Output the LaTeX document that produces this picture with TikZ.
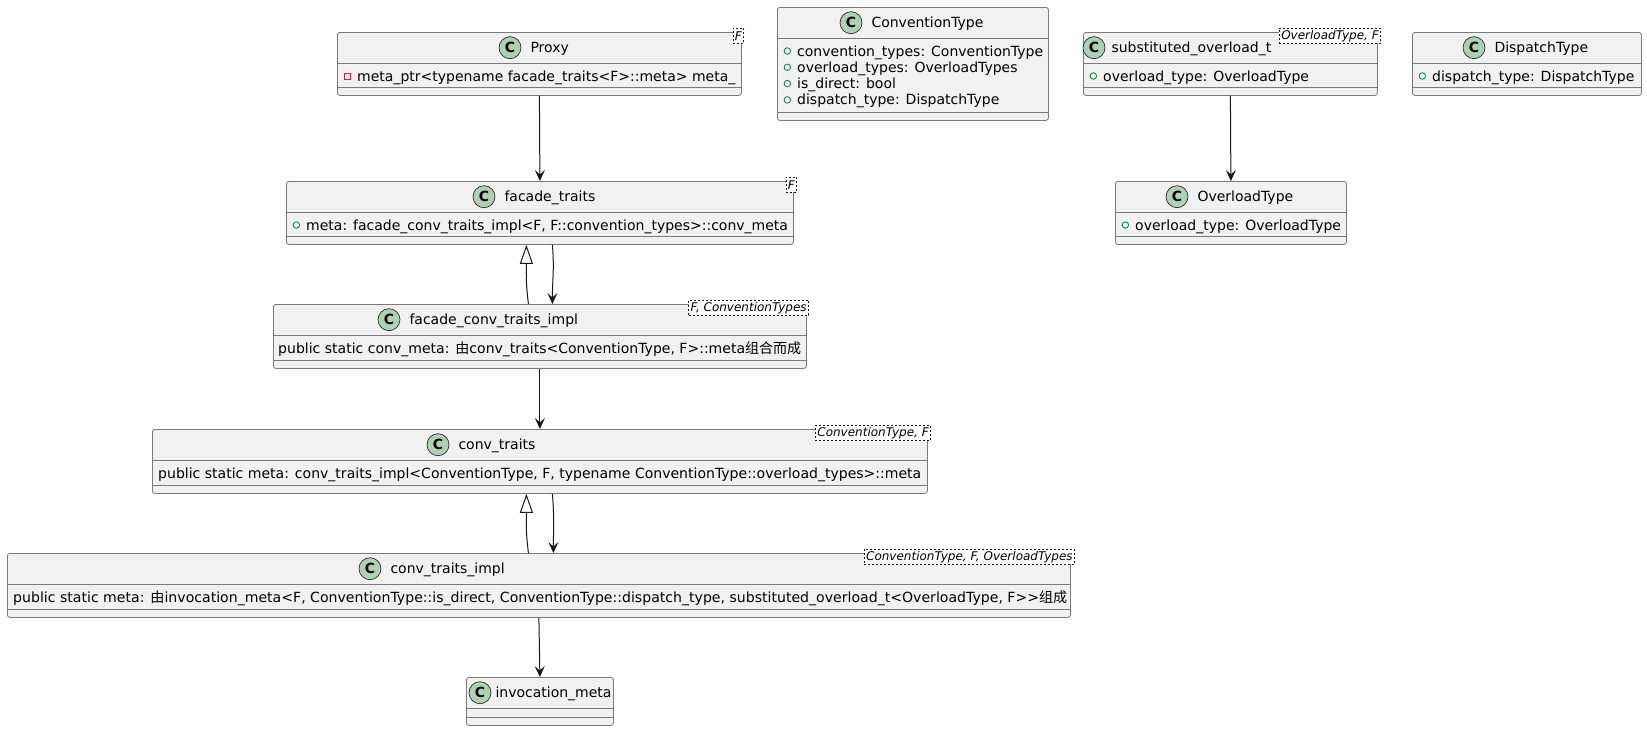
\documentclass[tikz,border=0pt]{standalone}
\usepackage{fontspec}
\setmainfont{DejaVu Sans}
\newfontfamily\cjk{Noto Sans CJK SC}
\usepackage{graphicx}
\usepackage{xcolor}
\usetikzlibrary{arrows.meta,positioning}

\definecolor{boxfill}{HTML}{F1F1F1}
\definecolor{boxline}{HTML}{7A7A7A}
\definecolor{umlline}{HTML}{181818}
\definecolor{iconfill}{HTML}{ADD1B2}
\definecolor{privred}{HTML}{C82930}
\definecolor{pubgreen}{HTML}{038048}

\begin{document}
\begin{tikzpicture}[x=1pt, y=-1pt,
    font=\fontsize{14}{16.3}\selectfont,
    classbox/.style={draw=boxline, line width=0.8pt, fill=boxfill, rounded corners=2.5pt, anchor=north west, inner sep=0pt},
    sep/.style={draw=boxline, line width=0.8pt},
    cicon/.style={circle, draw=umlline, line width=0.6pt, fill=iconfill, minimum size=22pt, inner sep=0pt, font=\fontsize{14}{14}\selectfont\bfseries},
    cname/.style={inner sep=0pt, text height=12.5pt, text depth=3.3pt},
    attr/.style={inner sep=0pt, anchor=west, text height=13pt, text depth=3pt},
    priv/.style={draw=privred, line width=0.8pt, minimum size=6pt, inner sep=0pt},
    pub/.style={circle, draw=pubgreen, line width=0.8pt, minimum size=6.5pt, inner sep=0pt},
    tparam/.style={draw=umlline, dash pattern=on 2pt off 2pt, line width=0.6pt, fill=white, anchor=north east, minimum height=15pt, inner xsep=2pt, inner ysep=0pt, font=\fontsize{12}{12}\selectfont\itshape},
    assoc/.style={draw=umlline, line width=1pt, -{Stealth[length=11pt, width=10pt, inset=4.5pt]}},
    inherit/.style={draw=umlline, line width=1pt, -{Triangle[open, length=19pt, width=13pt, fill=white]}}
]
\fill[white] (0,0) rectangle (1647,731);
\useasboundingbox (0,0) rectangle (1647,731);

% top row
\node[classbox, minimum width=404pt, minimum height=63pt] (proxy) at (337,32) {};
\node[cicon] (proxy-c) at (510,47.7) {C};
\node[cname, right=9pt of proxy-c] (proxy-n) {Proxy};
\node[attr] (proxy-a) at (357,76) {meta\_ptr<typename facade\_traits<F>::meta> meta\_};
\node[priv, left=6pt of proxy-a] {};
\node[tparam] (proxy-p) at (744,28) {F};

\node[classbox, minimum width=271pt, minimum height=113pt] (convtype) at (777,7) {};
\node[cicon] (convtype-c) at (851,22.7) {C};
\node[cname, right=9pt of convtype-c] (convtype-n) {ConventionType};
\node[attr] (convtype-a1) at (797,51) {convention\_types: ConventionType};
\node[attr] (convtype-a2) at (797,67.3) {overload\_types: OverloadTypes};
\node[attr] (convtype-a3) at (797,83.6) {is\_direct: bool};
\node[attr] (convtype-a4) at (797,99.9) {dispatch\_type: DispatchType};
\foreach \i in {1,...,4} \node[pub, left=6pt of convtype-a\i] {};

\node[classbox, minimum width=294pt, minimum height=63pt] (subst) at (1083,32) {};
\node[cicon] (subst-c) at (1094,47.7) {C};
\node[cname, right=6pt of subst-c] (subst-n) {substituted\_overload\_t};
\node[attr] (subst-a) at (1103,76) {overload\_type: OverloadType};
\node[pub, left=6pt of subst-a] {};
\node[tparam] (subst-p) at (1381,28) {OverloadType, F};

\node[classbox, minimum width=229pt, minimum height=63pt] (dispatch) at (1412,32) {};
\node[cicon] (dispatch-c) at (1474,47.7) {C};
\node[cname, right=9pt of dispatch-c] (dispatch-n) {DispatchType};
\node[attr] (dispatch-a) at (1432,76) {dispatch\_type: DispatchType};
\node[pub, left=6pt of dispatch-a] {};

% second row
\node[classbox, minimum width=507pt, minimum height=63pt] (facade) at (286,181) {};
\node[cicon] (facade-c) at (484,196.7) {C};
\node[cname, right=9pt of facade-c] (facade-n) {facade\_traits};
\node[attr] (facade-a) at (306,225) {meta: facade\_conv\_traits\_impl<F, F::convention\_types>::conv\_meta};
\node[pub, left=6pt of facade-a] {};
\node[tparam] (facade-p) at (797,177) {F};

\node[classbox, minimum width=231pt, minimum height=63pt] (overload) at (1115,181) {};
\node[cicon] (overload-c) at (1177,196.7) {C};
\node[cname, right=9pt of overload-c] (overload-n) {OverloadType};
\node[attr] (overload-a) at (1135,225) {overload\_type: OverloadType};
\node[pub, left=6pt of overload-a] {};

% the chain below facade_traits
\node[classbox, minimum width=533pt, minimum height=64pt] (fcimpl) at (273,304) {};
\node[cicon] (fcimpl-c) at (389,319.7) {C};
\node[cname, right=9pt of fcimpl-c] (fcimpl-n) {facade\_conv\_traits\_impl};
\node[attr] (fcimpl-a) at (278,348) {\resizebox{523pt}{\height}{public static conv\_meta: {\cjk 由}conv\_traits<ConventionType, F>::meta{\cjk 组合而成}}};
\node[tparam] (fcimpl-p) at (809,300) {F, ConventionTypes};

\node[classbox, minimum width=775pt, minimum height=64pt] (convtraits) at (152,429) {};
\node[cicon] (convtraits-c) at (438,444.7) {C};
\node[cname, right=9pt of convtraits-c] (convtraits-n) {conv\_traits};
\node[attr] (convtraits-a) at (158,473) {\resizebox{763pt}{\height}{public static meta: conv\_traits\_impl<ConventionType, F, typename ConventionType::overload\_types>::meta}};
\node[tparam] (convtraits-p) at (931,425) {ConventionType, F};

\node[classbox, minimum width=1063pt, minimum height=64pt] (ctimpl) at (7,553) {};
\node[cicon] (ctimpl-c) at (370,568.7) {C};
\node[cname, right=9pt of ctimpl-c] (ctimpl-n) {conv\_traits\_impl};
\node[attr] (ctimpl-a) at (13,597) {\resizebox{1054pt}{\height}{public static meta: {\cjk 由}invocation\_meta<F, ConventionType::is\_direct, ConventionType::dispatch\_type, substituted\_overload\_t<OverloadType, F>{}>{\cjk 组成}}};
\node[tparam] (ctimpl-p) at (1075,549) {ConventionType, F, OverloadTypes};

\node[classbox, minimum width=147pt, minimum height=48pt] (invmeta) at (466,677) {};
\node[cicon] (invmeta-c) at (480,692.7) {C};
\node[cname, right=4pt of invmeta-c] (invmeta-n) {invocation\_meta};

% compartment lines
\foreach \c in {proxy,convtype,subst,dispatch,facade,overload,fcimpl,convtraits,ctimpl,invmeta} {
  \draw[sep] ([yshift=-31.5pt]\c.north west) -- ([yshift=-31.5pt]\c.north east);
  \draw[sep] ([yshift=8pt]\c.south west) -- ([yshift=8pt]\c.south east);
}

% relations
\draw[assoc] (proxy.south) -- (facade.north);
\draw[assoc] (subst.south) -- (overload.north);
\draw[inherit] ([xshift=-11.5pt]fcimpl.north) .. controls +(-3,-25) and +(0,25) .. ([xshift=-13.5pt]facade.south);
\draw[assoc] ([xshift=12.5pt]facade.south) .. controls +(2,25) and +(0,-25) .. ([xshift=12.5pt]fcimpl.north);
\draw[assoc] (fcimpl.south) -- (convtraits.north);
\draw[inherit] ([xshift=-10.5pt]ctimpl.north) .. controls +(-3,-25) and +(0,25) .. ([xshift=-13.5pt]convtraits.south);
\draw[assoc] ([xshift=12.5pt]convtraits.south) .. controls +(2,25) and +(0,-25) .. ([xshift=14.5pt]ctimpl.north);
\draw[assoc] (ctimpl.south) -- (invmeta.north);

\end{tikzpicture}
\end{document}
